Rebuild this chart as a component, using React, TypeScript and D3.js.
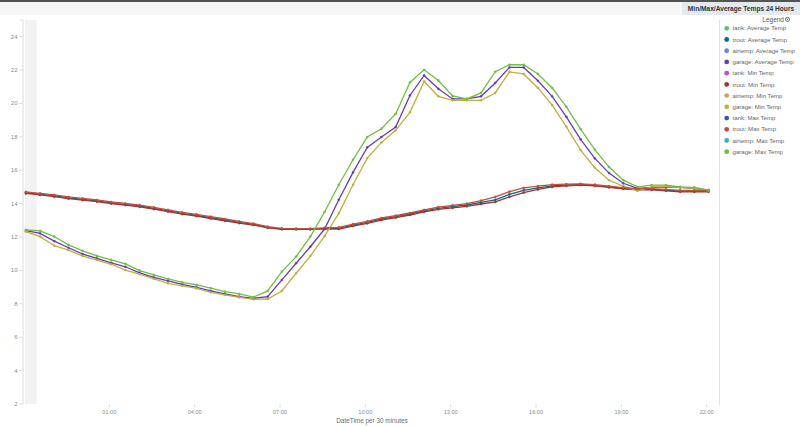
import React from 'react';
import * as d3 from 'd3';

const W = 800;
const H = 426;

// Legend entries (Kibana default palette order)
const legendNames = [
  'tank: Average Temp', 'trout: Average Temp', 'airtemp: Average Temp', 'garage: Average Temp',
  'tank: Min Temp', 'trout: Min Temp', 'airtemp: Min Temp', 'garage: Min Temp',
  'tank: Max Temp', 'trout: Max Temp', 'airtemp: Max Temp', 'garage: Max Temp',
];
const legendColors = [
  '#57c17b', '#006e8a', '#6f87d8', '#663db8',
  '#bc52bc', '#9e3533', '#daa05d', '#bfaf40',
  '#4050bf', '#bf5040', '#40afbf', '#70bf40',
];

const yTicks = [2, 4, 6, 8, 10, 12, 14, 16, 18, 20, 22, 24];
const xTickLabels = ['01:00', '04:00', '07:00', '10:00', '13:00', '16:00', '19:00', '22:00'];

// 30-minute buckets starting 22:04 the previous evening
const firstBucket = '2017-05-31T22:04:00';
const bucketMinutes = 30;

const troutAvg = [14.65, 14.57, 14.47, 14.35, 14.26, 14.17, 14.05, 13.96, 13.86, 13.72, 13.57, 13.42, 13.30, 13.16, 13.02, 12.88, 12.76, 12.58, 12.48, 12.48, 12.48, 12.52, 12.52, 12.72, 12.88, 13.08, 13.22, 13.38, 13.57, 13.72, 13.82, 13.92, 14.08, 14.23, 14.56, 14.80, 14.95, 15.07, 15.11, 15.15, 15.10, 15.01, 14.92, 14.86, 14.86, 14.81, 14.75, 14.75, 14.75];
const troutMin = [14.61, 14.53, 14.42, 14.30, 14.21, 14.12, 14.00, 13.91, 13.81, 13.67, 13.52, 13.37, 13.25, 13.11, 12.97, 12.83, 12.72, 12.55, 12.46, 12.46, 12.46, 12.49, 12.48, 12.66, 12.82, 13.02, 13.16, 13.32, 13.51, 13.66, 13.75, 13.84, 13.98, 14.10, 14.40, 14.66, 14.85, 15.00, 15.06, 15.11, 15.06, 14.97, 14.88, 14.82, 14.82, 14.77, 14.71, 14.71, 14.71];
const troutMax = [14.70, 14.62, 14.52, 14.40, 14.31, 14.22, 14.10, 14.01, 13.91, 13.78, 13.63, 13.48, 13.36, 13.22, 13.08, 12.94, 12.81, 12.62, 12.52, 12.50, 12.50, 12.55, 12.58, 12.78, 12.94, 13.14, 13.28, 13.44, 13.63, 13.79, 13.90, 14.00, 14.18, 14.40, 14.72, 14.94, 15.05, 15.14, 15.17, 15.19, 15.14, 15.05, 14.96, 14.90, 14.90, 14.85, 14.79, 14.79, 14.79];
const garageAvg = [12.38, 12.22, 11.76, 11.36, 10.98, 10.72, 10.46, 10.22, 9.86, 9.59, 9.37, 9.17, 8.99, 8.78, 8.59, 8.43, 8.33, 8.43, 9.43, 10.43, 11.42, 12.48, 14.23, 15.87, 17.37, 17.99, 18.59, 20.48, 21.68, 20.88, 20.27, 20.27, 20.43, 21.23, 22.16, 22.16, 21.36, 20.43, 19.20, 17.85, 16.71, 15.83, 15.22, 14.92, 14.97, 15.01, 14.97, 14.92, 14.81];
const garageMin = [12.32, 12.02, 11.48, 11.22, 10.86, 10.62, 10.37, 10.02, 9.78, 9.49, 9.23, 9.08, 8.93, 8.69, 8.53, 8.39, 8.27, 8.29, 8.77, 9.83, 10.86, 12.06, 13.42, 15.13, 16.73, 17.67, 18.39, 19.47, 21.32, 20.43, 20.19, 20.19, 20.19, 20.63, 21.89, 21.77, 20.93, 19.90, 18.60, 17.21, 16.15, 15.40, 15.05, 14.77, 15.01, 15.05, 14.97, 14.92, 14.77];
const garageMax = [12.43, 12.37, 12.03, 11.53, 11.17, 10.87, 10.63, 10.39, 9.99, 9.73, 9.49, 9.29, 9.13, 8.94, 8.73, 8.59, 8.40, 8.77, 9.93, 10.83, 12.03, 13.50, 15.13, 16.63, 17.99, 18.49, 19.37, 21.26, 22.02, 21.38, 20.45, 20.27, 20.63, 21.90, 22.32, 22.32, 21.77, 20.93, 19.80, 18.47, 17.23, 16.19, 15.41, 15.01, 15.11, 15.11, 15.01, 14.97, 14.81];

// drawn in legend order (later on top)
const drawnSeries = [
  { name: 'trout: Average Temp', values: troutAvg },
  { name: 'garage: Average Temp', values: garageAvg },
  { name: 'trout: Min Temp', values: troutMin },
  { name: 'garage: Min Temp', values: garageMin },
  { name: 'trout: Max Temp', values: troutMax },
  { name: 'garage: Max Temp', values: garageMax },
];

const FONT = '"Liberation Sans", Arial, Helvetica, sans-serif';

export default function App() {
  const parse = d3.timeParse('%Y-%m-%dT%H:%M:%S');
  const t0 = parse(firstBucket) as Date;
  const times = troutAvg.map((_, i) => d3.timeMinute.offset(t0, i * bucketMinutes));

  const x = d3
    .scaleTime()
    .domain([parse('2017-05-31T21:58:00') as Date, parse('2017-06-01T22:28:00') as Date])
    .range([23, 720]);
  const y = d3.scaleLinear().domain([2, 25]).range([404, 20]);

  const xTickDates = xTickLabels.map((l) => parse(`2017-06-01T${l}:00`) as Date);

  const colorOf = (name: string) => legendColors[legendNames.indexOf(name)];

  const line = d3
    .line<number>()
    .x((_, i) => x(times[i]))
    .y((d) => y(d))
    .curve(d3.curveLinear);

  return (
    <svg
      width={W}
      height={H}
      style={{ position: 'absolute', left: 0, top: 0, display: 'block', background: '#fff' }}
      fontFamily={FONT}
    >
      {/* top chrome */}
      <rect x={0} y={0} width={W} height={15} fill="#f7f7f7" />
      <rect x={0} y={0} width={W} height={2} fill="#545454" />
      <rect x={682} y={2} width={118} height={13} fill="#e4e9ed" />
      <text x={741} y={10.8} textAnchor="middle" fontSize={6.6} fontWeight="bold" fill="#333">
        Min/Max/Average Temps 24 Hours
      </text>

      {/* partial bucket band */}
      <rect x={25} y={20} width={11.7} height={384} fill="#f2f2f2" />

      {/* y axis */}
      <line x1={23} x2={23} y1={20} y2={404} stroke="#dcdcdc" strokeWidth={1} />
      <line x1={20} x2={23} y1={20} y2={20} stroke="#dcdcdc" strokeWidth={1} />
      {yTicks.map((v) => (
        <g key={v}>
          <line x1={19} x2={23} y1={y(v)} y2={y(v)} stroke="#dcdcdc" strokeWidth={1} />
          <text x={17.5} y={y(v) + 2} textAnchor="end" fontSize={6} fill="#848e96">
            {v}
          </text>
        </g>
      ))}

      {/* x axis */}
      {xTickDates.map((d, i) => (
        <g key={i}>
          <line x1={x(d)} x2={x(d)} y1={404.5} y2={407.5} stroke="#dcdcdc" strokeWidth={1} />
          <text x={x(d)} y={413.8} textAnchor="middle" fontSize={5.6} fill="#848e96">
            {xTickLabels[i]}
          </text>
        </g>
      ))}
      <text x={372} y={423} textAnchor="middle" fontSize={6.4} fill="#6a717a">
        DateTime per 30 minutes
      </text>

      {/* series */}
      {drawnSeries.map((s) => {
        const c = colorOf(s.name);
        return (
          <g key={s.name}>
            <path d={line(s.values) || ''} fill="none" stroke={c} strokeWidth={1.3} />
            {s.values.map((v, i) => (
              <circle key={i} cx={x(times[i])} cy={y(v)} r={1.1} fill={c} stroke={c} strokeOpacity={0.35} strokeWidth={1} />
            ))}
          </g>
        );
      })}

      {/* legend */}
      <line x1={719.5} x2={719.5} y1={20} y2={405} stroke="#eedddd" strokeWidth={1} />
      <text x={784} y={21.5} textAnchor="end" fontSize={6.5} fill="#555">
        Legend
      </text>
      <circle cx={787.5} cy={19.4} r={2} fill="none" stroke="#666" strokeWidth={1} />
      <circle cx={787.5} cy={19.4} r={0.7} fill="#666" />
      {legendNames.map((n, i) => {
        const cy = 28.3 + i * 11.22;
        return (
          <g key={n}>
            <circle cx={726.7} cy={cy} r={2.4} fill={legendColors[i]} />
            <text x={732.5} y={cy + 2.1} fontSize={6.1} fill="#666">
              {n}
            </text>
          </g>
        );
      })}
    </svg>
  );
}
